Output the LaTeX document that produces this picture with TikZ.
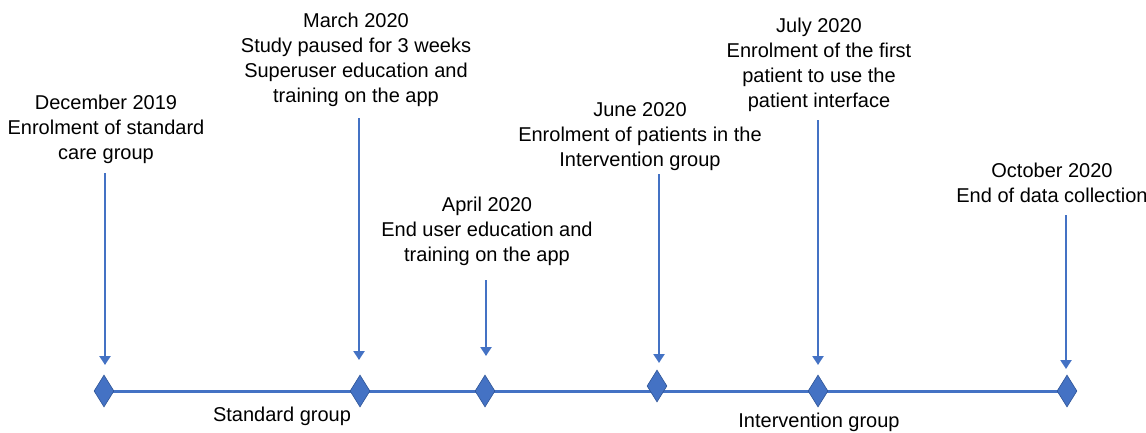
\documentclass[tikz,border=0pt]{standalone}
\usepackage{fontspec}
\setmainfont{Liberation Sans}
\usetikzlibrary{shapes.geometric,arrows.meta,backgrounds}
\definecolor{tlblue}{HTML}{4472C4}
\definecolor{tledge}{HTML}{2F5597}
\begin{document}
\begin{tikzpicture}[x=1pt,y=-1pt,
  lbl/.style={align=center,inner sep=0pt,anchor=north,font=\fontsize{20}{25}\selectfont},
  glbl/.style={inner sep=0pt,anchor=base,font=\fontsize{20}{25}\selectfont},
  dia/.style={diamond,draw=tledge,line width=0.6pt,fill=tlblue,minimum width=20pt,minimum height=32pt,inner sep=0pt},
  evarrow/.style={draw=tlblue,line width=2.2pt,-{Triangle[width=11pt,length=9pt]}},
  tline/.style={draw=tlblue,line width=3pt}]
\useasboundingbox (0,0) rectangle (1146,432);
% labels
\node[lbl] (l1) at (106,94.4) {December 2019\\Enrolment of standard\\care group};
\node[lbl] (l2) at (356,12.4) {March 2020\\Study paused for 3 weeks\\Superuser education and\\training on the app};
\node[lbl] (l3) at (487,196.4) {April 2020\\End user education and\\training on the app};
\node[lbl] (l4) at (640,102.4) {June 2020\\Enrolment of patients in the\\Intervention group};
\node[lbl] (l5) at (819,17.4) {July 2020\\Enrolment of the first\\patient to use the\\patient interface};
\node[lbl] (l6) at (1052,162.4) {October 2020\\End of data collection};
\node[glbl] (g1) at (282,421) {Standard group};
\node[glbl] (g2) at (819,427) {Intervention group};
% diamonds
\node[dia] (d1) at (104,391) {};
\node[dia] (d2) at (360,391) {};
\node[dia] (d3) at (485,391) {};
\node[dia] (d4) at (657,386) {};
\node[dia] (d5) at (818,391) {};
\node[dia] (d6) at (1067,391) {};
\begin{scope}[on background layer]
\draw[tline] (d1.center) -- (d6.center);
\end{scope}
% arrows
\coordinate (t1) at (105,173); \coordinate (b1) at (105,365);
\coordinate (t2) at (359,118); \coordinate (b2) at (359,360);
\coordinate (t3) at (486,280); \coordinate (b3) at (486,356);
\coordinate (t4) at (659,174); \coordinate (b4) at (659,363);
\coordinate (t5) at (818,120); \coordinate (b5) at (818,365);
\coordinate (t6) at (1066,215); \coordinate (b6) at (1066,369);
\foreach \i in {1,...,6} {\draw[evarrow] (t\i) -- (b\i);}
\end{tikzpicture}
\end{document}
